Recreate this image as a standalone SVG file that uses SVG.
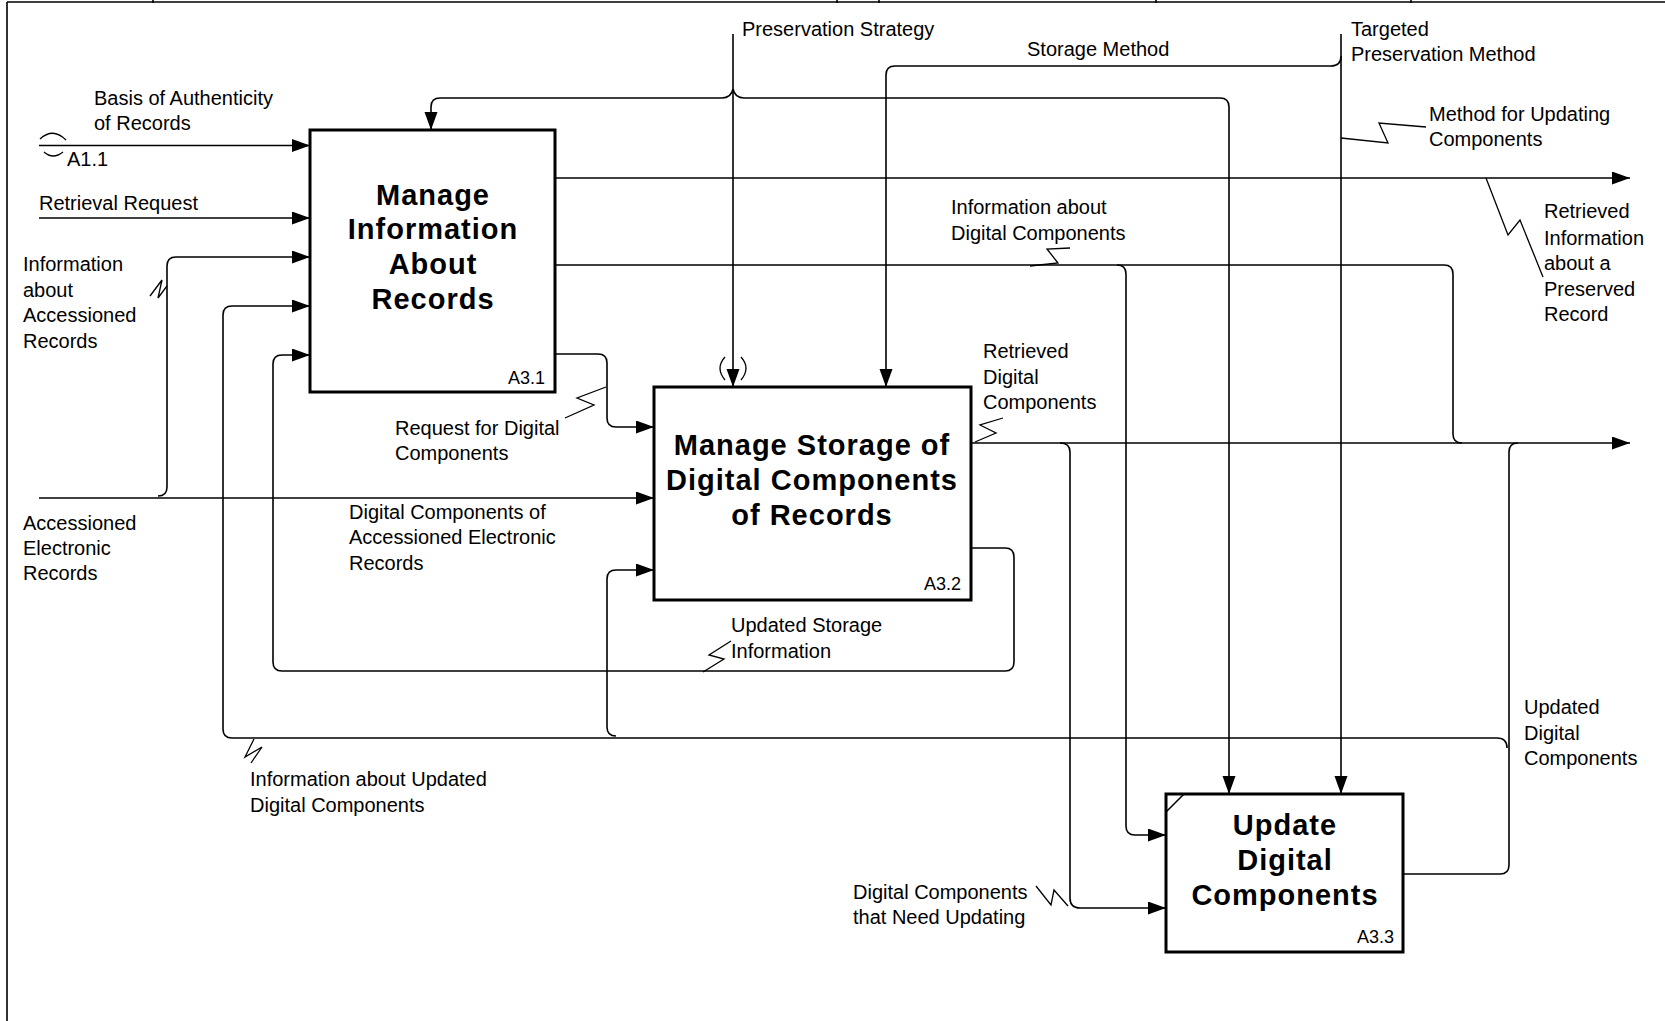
<svg xmlns="http://www.w3.org/2000/svg" width="1665" height="1021" viewBox="0 0 1665 1021">
<defs>
<marker id="ah" markerUnits="userSpaceOnUse" markerWidth="20" markerHeight="14" refX="18" refY="6.5" orient="auto">
<path d="M0,0 L18,6.5 L0,13 z" fill="#000"/>
</marker>
<style>
.ln{fill:none;stroke:#000;stroke-width:1.6}
.ar{fill:none;stroke:#000;stroke-width:1.6;marker-end:url(#ah)}
.sq{fill:none;stroke:#000;stroke-width:1.3}
.box{fill:#fff;stroke:#000;stroke-width:3}
.t{font-family:"Liberation Sans",Arial,sans-serif;font-size:20px;fill:#000}
.id{font-family:"Liberation Sans",Arial,sans-serif;font-size:18px;fill:#000;text-anchor:end}
.ttl{font-family:"Liberation Sans",Arial,sans-serif;font-size:29px;font-weight:bold;letter-spacing:1px;fill:#000;text-anchor:middle}
</style>
</defs>
<rect width="1665" height="1021" fill="#fff"/>
<g id="frame">
<path class="ln" d="M7 2 H1665 M7 2 V1021"/>
<path class="ln" d="M153 0 V3 M837 0 V3 M879 0 V3 M1156 0 V3 M1411 0 V3"/>
</g>
<g id="connectors">
<!-- Basis of Authenticity -->
<path class="ar" d="M39 145.5 H310"/>
<path class="sq" d="M40 139 Q53 127 66 140 M44 152 Q53 160 63 152"/>
<!-- Retrieval Request -->
<path class="ar" d="M39 218 H310"/>
<!-- Accessioned Electronic Records -->
<path class="ar" d="M39 498 H654"/>
<path class="ar" d="M158 496 Q167 496 167 487 V266 Q167 257 176 257 H310"/>
<polyline class="sq" points="150,296 162,280 158,298 167,286"/>
<!-- Updated Digital Components -->
<path class="ln" d="M1403 874 H1500 Q1509 874 1509 865 V452 Q1509 443 1518 443"/>
<path class="ar" d="M1507 748 Q1507 738 1497 738 H232 Q223 738 223 729 V315 Q223 306 232 306 H310"/>
<path class="ar" d="M616 736 Q607 736 607 727 V579 Q607 570 616 570 H654"/>
<polyline class="sq" points="254,739 245,757 262,747 251,763"/>
<!-- Updated Storage Information -->
<path class="ar" d="M971 548 H1005 Q1014 548 1014 557 V662 Q1014 671 1005 671 H282 Q273 671 273 662 V364 Q273 355 282 355 H310"/>
<polyline class="sq" points="731,641 709,655 724,659 703,672"/>
<!-- Request for Digital Components -->
<path class="ar" d="M555 354 H598 Q607 354 607 363 V418 Q607 427 616 427 H654"/>
<polyline class="sq" points="606,387 577,398 594,405 565,418"/>
<!-- Preservation Strategy -->
<path class="ar" d="M733 34 V387"/>
<path class="ar" d="M733 89 Q731 98 722 98 H440 Q431 98 431 107 V130"/>
<path class="ar" d="M733 89 Q735 98 744 98 H1220 Q1229 98 1229 107 V794"/>
<path class="sq" d="M725 357 Q715 368 725 380 M741 357 Q751 368 741 380"/>
<!-- Storage Method -->
<path class="ar" d="M1341 56 Q1341 66 1331 66 H895 Q886 66 886 75 V387"/>
<!-- Targeted Preservation Method -->
<path class="ar" d="M1341 34 V794"/>
<polyline class="sq" points="1341,138 1388,143 1379,123 1426,127"/>
<!-- Retrieved Information about a Preserved Record -->
<path class="ar" d="M555 178 H1630"/>
<polyline class="sq" points="1486,178 1508,235 1520,220 1543,277"/>
<!-- Information about Digital Components -->
<path class="ar" d="M555 265 H1117 Q1126 265 1126 274 V826 Q1126 835 1135 835 H1166"/>
<path class="ln" d="M1117 265 H1444 Q1453 265 1453 274 V434 Q1453 443 1462 443"/>
<polyline class="sq" points="1070,248 1047,249 1058,263 1030,266"/>
<!-- Retrieved Digital Components -->
<path class="ar" d="M971 443 H1630"/>
<path class="ar" d="M1060 443 Q1070 443 1070 452 V898 Q1070 908 1080 908 H1166"/>
<polyline class="sq" points="1003,418 980,425 996,433 975,442"/>
<polyline class="sq" points="1036,886 1051,905 1054,890 1068,906"/>
</g>
<g id="labels">
<text class="t" x="94" y="105">Basis of Authenticity</text>
<text class="t" x="94" y="130">of Records</text>
<text class="t" x="67" y="166" font-size="18">A1.1</text>
<text class="t" x="39" y="210">Retrieval Request</text>
<text class="t" x="23" y="271">Information</text>
<text class="t" x="23" y="297">about</text>
<text class="t" x="23" y="322">Accessioned</text>
<text class="t" x="23" y="348">Records</text>
<text class="t" x="23" y="530">Accessioned</text>
<text class="t" x="23" y="555">Electronic</text>
<text class="t" x="23" y="580">Records</text>
<text class="t" x="395" y="435">Request for Digital</text>
<text class="t" x="395" y="460">Components</text>
<text class="t" x="349" y="519">Digital Components of</text>
<text class="t" x="349" y="544">Accessioned Electronic</text>
<text class="t" x="349" y="570">Records</text>
<text class="t" x="731" y="632">Updated Storage</text>
<text class="t" x="731" y="658">Information</text>
<text class="t" x="250" y="786">Information about Updated</text>
<text class="t" x="250" y="812">Digital Components</text>
<text class="t" x="742" y="36">Preservation Strategy</text>
<text class="t" x="1027" y="56">Storage Method</text>
<text class="t" x="1351" y="36">Targeted</text>
<text class="t" x="1351" y="61">Preservation Method</text>
<text class="t" x="1429" y="121">Method for Updating</text>
<text class="t" x="1429" y="146">Components</text>
<text class="t" x="951" y="214">Information about</text>
<text class="t" x="951" y="240">Digital Components</text>
<text class="t" x="1544" y="218">Retrieved</text>
<text class="t" x="1544" y="245">Information</text>
<text class="t" x="1544" y="270">about a</text>
<text class="t" x="1544" y="296">Preserved</text>
<text class="t" x="1544" y="321">Record</text>
<text class="t" x="983" y="358">Retrieved</text>
<text class="t" x="983" y="384">Digital</text>
<text class="t" x="983" y="409">Components</text>
<text class="t" x="1524" y="714">Updated</text>
<text class="t" x="1524" y="740">Digital</text>
<text class="t" x="1524" y="765">Components</text>
<text class="t" x="853" y="899">Digital Components</text>
<text class="t" x="853" y="924">that Need Updating</text>
</g>
<g id="A3.1">
<rect class="box" x="310" y="130" width="245" height="262"/>
<text class="ttl" x="433" y="205">Manage</text>
<text class="ttl" x="433" y="239">Information</text>
<text class="ttl" x="433" y="274">About</text>
<text class="ttl" x="433" y="309">Records</text>
<text class="id" x="545" y="384">A3.1</text>
</g>
<g id="A3.2">
<rect class="box" x="654" y="387" width="317" height="213"/>
<text class="ttl" x="812" y="455">Manage Storage of</text>
<text class="ttl" x="812" y="490">Digital Components</text>
<text class="ttl" x="812" y="525">of Records</text>
<text class="id" x="961" y="590">A3.2</text>
</g>
<g id="A3.3">
<rect class="box" x="1166" y="794" width="237" height="158"/>
<path class="ln" d="M1166 812 L1184 794" stroke-width="2.5"/>
<text class="ttl" x="1285" y="835">Update</text>
<text class="ttl" x="1285" y="870">Digital</text>
<text class="ttl" x="1285" y="905">Components</text>
<text class="id" x="1394" y="943">A3.3</text>
</g>
</svg>
